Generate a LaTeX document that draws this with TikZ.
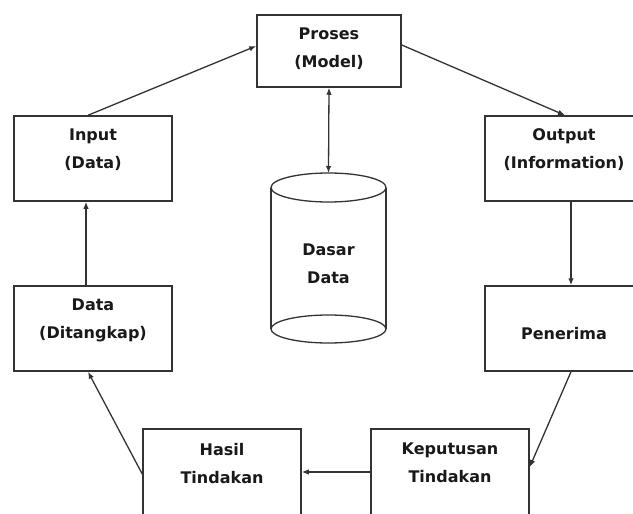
\documentclass[tikz,border=0pt]{standalone}
\usepackage{fontspec}
\setmainfont{DejaVu Sans}
\usetikzlibrary{arrows.meta,calc}
\begin{document}
\begin{tikzpicture}[x=1pt,y=-1pt,
  box/.style={draw=black!80, line width=1.5pt, rectangle, inner sep=0pt, minimum width=158pt, minimum height=85pt},
  lbl/.style={font=\bfseries\fontsize{16}{28}\selectfont, align=center, text=black!90, inner sep=0pt},
  arr/.style={draw=black!80, line width=1.3pt, -{Latex[length=7pt,width=5.5pt]}},
  cyl/.style={draw=black!80, line width=1.3pt}]
\useasboundingbox (0,0) rectangle (633,514);
\fill[white] (0,0) rectangle (633,514);
\clip (0,0) rectangle (633,514);
% boxes
\node[box, minimum width=144pt, minimum height=72pt] (proses) at (329,51) {};
\node[box] (input) at (93,158.5) {};
\node[box] (output) at (564,158.5) {};
\node[box] (data) at (93,328.5) {};
\node[box] (penerima) at (564,328.5) {};
\node[box, minimum height=90pt] (hasil) at (222,474) {};
\node[box, minimum height=90pt] (keputusan) at (450,474) {};
% labels
\node[lbl] (tproses) at ($(proses.north)+(0,34)$) {Proses\\(Model)};
\node[lbl] (tinput) at ($(input.north)+(0,34)$) {Input\\(Data)};
\node[lbl] (toutput) at ($(output.north)+(0,34)$) {Output\\(Information)};
\node[lbl] (tdata) at ($(data.north)+(0,35.5)$) {Data\\(Ditangkap)};
\node[lbl] (tpenerima) at ($(penerima.north)+(0,48)$) {Penerima};
\node[lbl] (thasil) at ($(hasil.north)+(0,35)$) {Hasil\\Tindakan};
\node[lbl] (tkeputusan) at ($(keputusan.north)+(0,35)$) {Keputusan\\Tindakan};
% database cylinder
\draw[cyl] (271,187.5) -- (271,329);
\draw[cyl] (386,187.5) -- (386,329);
\draw[cyl] (328.5,187.5) ellipse [x radius=57.5, y radius=14.5];
\draw[cyl] (328.5,329) ellipse [x radius=57.5, y radius=14];
\coordinate (dbtop) at (328.5,173);
\node[lbl] (db) at (328.5,264) {Dasar\\Data};
% connectors
\draw[arr] ([xshift=-5pt]input.north) -- ($(proses.west)+(0,-5)$);
\draw[arr] ($(proses.east)+(0,-6)$) -- ([xshift=1pt]output.north);
\draw[arr, {Latex[length=7pt,width=5.5pt]}-{Latex[length=7pt,width=5.5pt]}] (proses.south) -- (dbtop);
\draw[arr] ([xshift=7pt]output.south) -- ([xshift=7pt]penerima.north);
\draw[arr] ([xshift=7pt]penerima.south) -- ($(keputusan.east)+(0,-7)$);
\draw[arr] ($(keputusan.west)+(0,-2)$) -- ($(hasil.east)+(0,-2)$);
\draw[arr] (hasil.west) -- ([xshift=-5pt]data.south);
\draw[arr] ([xshift=-7pt]data.north) -- ([xshift=-7pt]input.south);
\end{tikzpicture}
\end{document}
